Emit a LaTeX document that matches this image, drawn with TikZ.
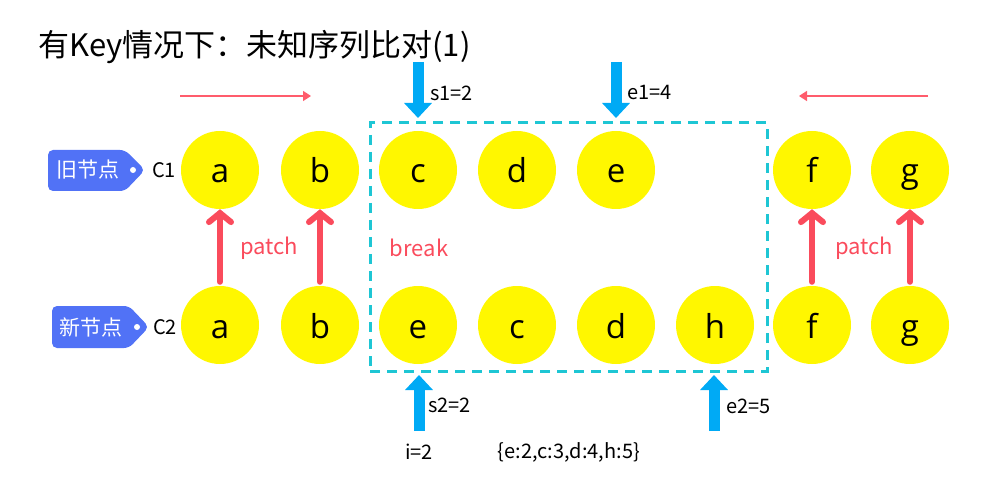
\documentclass[tikz,border=0pt]{standalone}
\usepackage{fontspec}
\setmainfont{Noto Sans CJK SC}
\newfontfamily\letterfont{Open Sans}
\usetikzlibrary{arrows.meta}
\definecolor{ballyellow}{HTML}{FFF700}
\definecolor{pointblue}{HTML}{00AAF5}
\definecolor{boxcyan}{HTML}{1EC6D4}
\definecolor{patchred}{HTML}{FA4B5C}
\definecolor{thinred}{HTML}{FF5C6C}
\definecolor{tagblue}{HTML}{5172F6}
\begin{document}
\begin{tikzpicture}[x=1pt,y=-1pt,
  ball/.style={circle, fill=ballyellow, minimum size=78pt, inner sep=0pt,
    text height=26pt, text depth=0pt, font=\letterfont\fontsize{33}{37}\selectfont},
  lbl/.style={inner sep=0pt, anchor=west, font=\fontsize{20}{24}\selectfont},
  redlbl/.style={inner sep=0pt, text=patchred, font=\fontsize{22}{26}\selectfont},
  ptr/.style={draw=pointblue, line width=11pt, -{Triangle[length=15pt,width=27pt]}},
  patcharrow/.style={draw=patchred, line width=6pt, line cap=round,
    -{Straight Barb[length=9pt,width=22pt,line cap=round]}},
  thinarrow/.style={draw=thinred, line width=1.6pt, -{Triangle[length=8pt,width=10pt]}},
  tagtext/.style={inner sep=0pt, text=white, font=\fontsize{21}{25}\selectfont},
]
\useasboundingbox (0,0) rectangle (982,494);

% title
\node[inner sep=0pt, anchor=west, font=\fontsize{31}{35}\selectfont] (title) at (38,47) {有Key情况下：未知序列比对(1)};

% dashed box
\node[draw=boxcyan, line width=3pt, dash pattern=on 10pt off 7pt,
  minimum width=397pt, minimum height=248pt, inner sep=0pt] (box) at (568.5,247) {};

% top row
\node[ball] (a1) at (220,170) {a};
\node[ball] (b1) at (320,170) {b};
\node[ball] (c1) at (418,170) {c};
\node[ball] (d1) at (517,170) {d};
\node[ball] (e1) at (616,170) {e};
\node[ball] (f1) at (812,170) {f};
\node[ball] (g1) at (910,170) {g};
% bottom row
\node[ball] (a2) at (220,325) {a};
\node[ball] (b2) at (320,325) {b};
\node[ball] (e2) at (418,325) {e};
\node[ball] (c2) at (517,325) {c};
\node[ball] (d2) at (616,325) {d};
\node[ball] (h2) at (715,325) {h};
\node[ball] (f2) at (812,325) {f};
\node[ball] (g2) at (910,325) {g};

% patch arrows
\draw[patcharrow] ([yshift=4pt]a2.north) -- (a1.south);
\draw[patcharrow] ([yshift=4pt]b2.north) -- (b1.south);
\draw[patcharrow] ([yshift=4pt]f2.north) -- (f1.south);
\draw[patcharrow] ([yshift=4pt]g2.north) -- (g1.south);
\node[redlbl] (patchL) at (269,248) {patch};
\node[redlbl] (patchR) at (864,248) {patch};
\node[redlbl] (brk) at (419,248) {break};

% thin direction arrows
\coordinate (tl1) at (180,96);
\coordinate (tl2) at (311,96);
\coordinate (tr1) at (928,96);
\coordinate (tr2) at (799,96);
\draw[thinarrow] (tl1) -- (tl2);
\draw[thinarrow] (tr1) -- (tr2);

% blue pointers
\coordinate (s1a) at (418,62);
\coordinate (s1b) at (418,118);
\coordinate (e1a) at (616,62);
\coordinate (e1b) at (616,118);
\coordinate (s2a) at (419,431);
\coordinate (s2b) at (419,375);
\coordinate (e2a) at (714,431);
\coordinate (e2b) at (714,375);
\draw[ptr] (s1a) -- (s1b);
\draw[ptr] (e1a) -- (e1b);
\draw[ptr] (s2a) -- (s2b);
\draw[ptr] (e2a) -- (e2b);
\node[lbl] (s1l) at (430,93) {s1=2};
\node[lbl] (e1l) at (627,93) {e1=4};
\node[lbl] (s2l) at (428,405) {s2=2};
\node[lbl] (e2l) at (726,406) {e2=5};
\node[lbl, anchor=center] (il) at (419,452) {i=2};
\node[lbl, anchor=center] (mapl) at (569,452) {\{e:2,c:3,d:4,h:5\}};

% tags
\fill[tagblue, rounded corners=5pt] (48,150) -- (125,150) -- (145,170) -- (125,191) -- (48,191) -- cycle;
\fill[white] (133,170) circle (3pt);
\node[tagtext] (tag1) at (88,170) {旧节点};
\node[lbl] (c1l) at (152,170) {C1};
\fill[tagblue, rounded corners=5pt] (52,306) -- (129,306) -- (149,327) -- (129,348) -- (52,348) -- cycle;
\fill[white] (137,327) circle (3pt);
\node[tagtext] (tag2) at (91,327) {新节点};
\node[lbl] (c2l) at (153,327) {C2};
\end{tikzpicture}
\end{document}
